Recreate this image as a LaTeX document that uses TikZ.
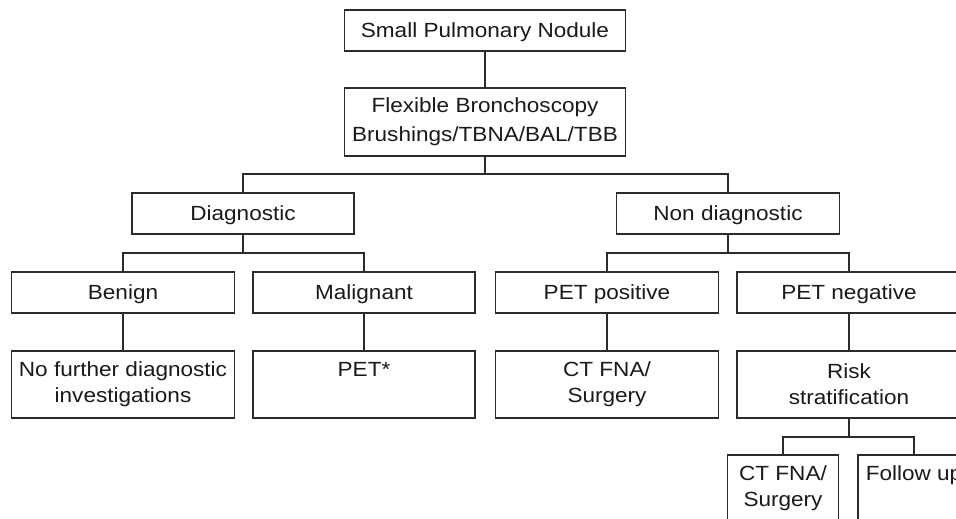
\documentclass[tikz,border=0pt]{standalone}
\usepackage{fontspec}
\setmainfont[FakeStretch=1.1]{Liberation Sans}
\definecolor{linec}{HTML}{2B2B2B}
\definecolor{textc}{HTML}{1A1A1A}
\begin{document}
\begin{tikzpicture}[x=1pt,y=-1pt,
  basebox/.style={draw=linec, line width=1.6pt, inner sep=0pt, align=center,
    font=\fontsize{20.5}{26}\selectfont, text=textc},
  box/.style={basebox, minimum height=41pt, text height=15pt, text depth=1pt},
  tall/.style={basebox, minimum height=67pt},
  conn/.style={draw=linec, line width=1.6pt}]
\useasboundingbox (0,0) rectangle (956,519);
\fill[white] (0,0) rectangle (956,519);

\node[box, minimum width=281pt] (top) at (485,30.5) {Small Pulmonary Nodule};
\node[basebox, minimum width=281pt, minimum height=68pt, font=\fontsize{20.5}{29}\selectfont] (flex) at (485,122) {Flexible Bronchoscopy\\Brushings/TBNA/BAL/TBB};
\node[box, minimum width=222pt] (diag) at (243,213.5) {Diagnostic};
\node[box, minimum width=223pt] (nondiag) at (728,213.5) {Non diagnostic};
\node[box, minimum width=223pt] (benign) at (123,292.5) {Benign};
\node[box, minimum width=222pt] (malig) at (364,292.5) {Malignant};
\node[box, minimum width=223pt] (petpos) at (607,292.5) {PET positive};
\node[box, minimum width=224pt] (petneg) at (849,292.5) {PET negative};
\node[tall, minimum width=223pt] (nofur) at (123,384.5) {No further diagnostic\\investigations};
\node[tall, minimum width=222pt] (pet) at (364,384.5) {PET*\\\phantom{g}};
\node[tall, minimum width=223pt] (ctfna) at (607,384.5) {CT FNA/\\Surgery};
\node[tall, minimum width=224pt] (risk) at (849,384.5) {Risk\\stratification};
\node[tall, minimum width=111pt] (ct2) at (783,488.5) {CT FNA/\\Surgery};
\node[tall, minimum width=112pt] (follow) at (914,488.5) {Follow up\\\phantom{g}};

\coordinate (j1) at (485,174);
\coordinate (j2) at (243,253);
\coordinate (j3) at (728,253);
\coordinate (j4) at (849,437);

\draw[conn] (top) -- (flex);
\draw[conn] (flex.south) -- (j1);
\draw[conn] (diag.north) |- (j1) -| (nondiag.north);
\draw[conn] (diag.south) -- (j2);
\draw[conn] (benign.north) |- (j2) -| (malig.north);
\draw[conn] (nondiag.south) -- (j3);
\draw[conn] (petpos.north) |- (j3) -| (petneg.north);
\draw[conn] (benign) -- (nofur);
\draw[conn] (malig) -- (pet);
\draw[conn] (petpos) -- (ctfna);
\draw[conn] (petneg) -- (risk);
\draw[conn] (risk.south) -- (j4);
\draw[conn] (ct2.north) |- (j4) -| (follow.north);
\end{tikzpicture}
\end{document}
